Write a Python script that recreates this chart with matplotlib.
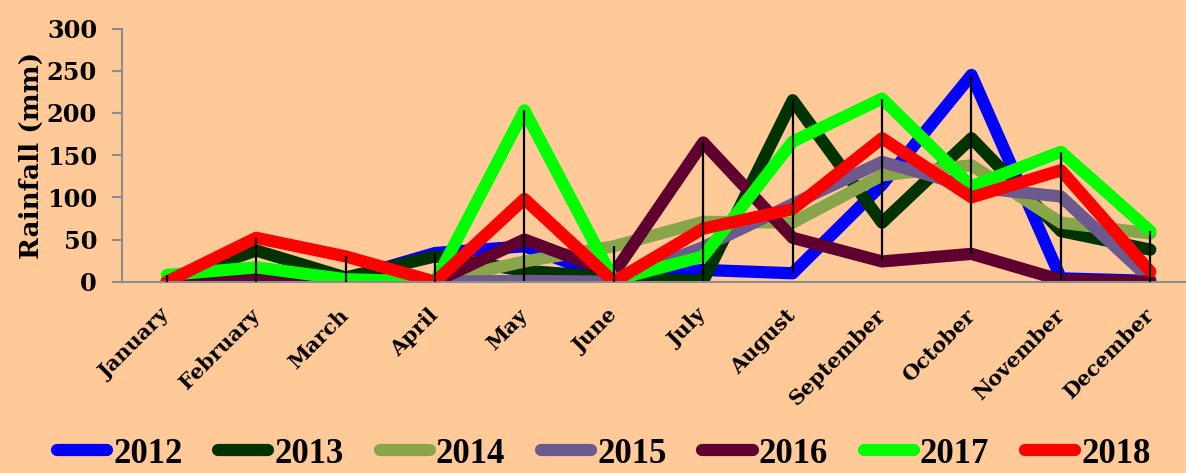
import numpy as np
import matplotlib
matplotlib.use('Agg')
import matplotlib.pyplot as plt

months = ['January', 'February', 'March', 'April', 'May', 'June', 'July',
          'August', 'September', 'October', 'November', 'December']

# monthly rainfall (mm)
r2012 = [0, 0, 3, 34, 42, 3, 14, 10, 115, 245, 4, 1]
r2013 = [0, 37, 5, 30, 13, 5, 1, 215, 70, 170, 60, 38]
r2014 = [0, 0, 0, 0, 24, 42, 71, 70, 126, 138, 70, 57]
r2015 = [0, 0, 0, 0, 1, 0, 41, 92, 142, 112, 101, 3]
r2016 = [0, 5, 0, 0, 50, 10, 165, 52, 24, 33, 2, 0]
r2017 = [8, 17, 3, 0, 203, 2, 30, 166, 217, 113, 154, 60]
r2018 = [0, 52, 30, 0, 98, 0, 63, 86, 170, 100, 132, 12]

years = ['2012', '2013', '2014', '2015', '2016', '2017', '2018']
series = [r2012, r2013, r2014, r2015, r2016, r2017, r2018]
colors = ['#0000FF', '#003300', '#88A54A', '#6C5A8E', '#600030', '#00FF00', '#FF0000']

bg = '#FFCA98'
plt.rcParams['font.family'] = 'DejaVu Serif'
plt.rcParams['font.weight'] = 'bold'

fig = plt.figure(figsize=(11.86, 4.73), dpi=100, facecolor=bg)
ax = fig.add_axes([0.1029, 0.4044, 0.9047, 0.5353])
ax.set_facecolor(bg)

x = np.arange(len(months))
for yr, vals, c in zip(years, series, colors):
    ax.plot(x, vals, color=c, lw=8.8, label=yr,
            solid_capstyle='round', solid_joinstyle='round')

# high-low lines
data = np.array(series)
ax.vlines(x, data.min(axis=0), data.max(axis=0), color='black', lw=1.6, zorder=5)

ax.set_xlim(-0.5, 11.5)
ax.set_ylim(0, 300)
ax.set_yticks(range(0, 301, 50))
ax.set_xticks(x)
ax.set_xticklabels(months, rotation=45, ha='right', va='center',
                   rotation_mode='anchor', fontsize=15, fontweight='bold')
ax.tick_params(axis='x', length=0, pad=22)
ax.tick_params(axis='y', length=7, width=1.5, color='#8C8C8C', labelsize=17.3, pad=11)
for t in ax.get_yticklabels():
    t.set_fontweight('bold')

for s in ['top', 'right']:
    ax.spines[s].set_visible(False)
for s in ['left', 'bottom']:
    ax.spines[s].set_color('#8C8C8C')
    ax.spines[s].set_linewidth(1.5)

ax.set_ylabel('Rainfall (mm)', fontsize=19, fontweight='bold')
ax.yaxis.set_label_coords(-0.073, 0.5)

leg = fig.legend(loc='upper center', bbox_to_anchor=(0.509, 0.075), ncol=7, frameon=False,
                 handlelength=1.45, handletextpad=0.17, columnspacing=1.03,
                 borderaxespad=0, borderpad=0,
                 prop={'family': 'Liberation Serif', 'size': 25, 'weight': 'bold'})

fig.savefig('out.png', dpi=100, facecolor=bg)
